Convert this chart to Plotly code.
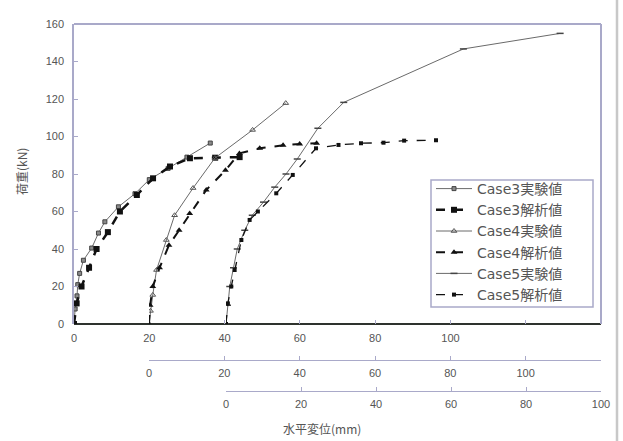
import plotly.graph_objects as go

# ---- data (each case in its own displacement axis, mm) ----
case3_exp_x = [0, 0.3, 0.8, 1.0, 1.5, 2.5, 4.7, 6.5, 8.2, 11.8, 16.2, 20.0, 25.0, 30.0, 36.2]
case3_exp_y = [0, 8, 15, 21, 27, 34, 40.5, 48.5, 54.5, 62.5, 69.5, 77, 83, 89, 96.5]
case3_ana_x = [0, 0.7, 2.0, 4.0, 6.0, 9.0, 12.2, 16.7, 21.0, 25.5, 30.8, 37.5, 44.0]
case3_ana_y = [0, 11, 20, 30, 40, 49, 60, 68.8, 77.7, 84, 88.4, 88.7, 89]

case4_exp_x = [0, 0.4, 1.0, 2.0, 4.6, 6.8, 11.7, 17.5, 27.5, 36.3]
case4_exp_y = [0, 7, 15.5, 28.8, 44.8, 58, 72.5, 88.5, 103.5, 117.8]
case4_ana_x = [0, 0.3, 1.0, 2.8, 5.3, 8.0, 10.8, 15.2, 20.3, 24.0, 29.4, 35.6, 40.0, 44.5]
case4_ana_y = [0, 10, 20, 30, 42, 50, 59, 71.5, 82, 91, 93.7, 95.3, 96, 96.4]

case5_exp_x = [0, 0.4, 1.0, 2.0, 3.0, 5.0, 7.0, 10.0, 13.0, 16.0, 19.0, 24.5, 31.4, 63.3, 89.1]
case5_exp_y = [0, 10, 20, 30, 40, 50, 58, 65, 73, 80, 88, 104.4, 118.2, 146.7, 155]
case5_ana_x = [0, 0.5, 1.4, 2.3, 4.1, 6.3, 8.5, 13.4, 17.8, 24.0, 30.0, 36.0, 42.0, 47.5, 56.0]
case5_ana_y = [0, 11, 20, 28.8, 44.8, 55.5, 60, 69.7, 79.5, 93.7, 95.5, 96.4, 96.7, 97.8, 98.0]

names = ["Case3実験値", "Case3解析値", "Case4実験値", "Case4解析値", "Case5実験値", "Case5解析値"]

y_ticks = [0, 20, 40, 60, 80, 100, 120, 140, 160]
x1_ticks = [0, 20, 40, 60, 80, 100, 120, 140]
x1_text = ["0", "20", "40", "60", "80", "100", "", ""]
x2_ticks = [0, 20, 40, 60, 80, 100, 120]
x2_text = ["0", "20", "40", "60", "80", "100", ""]
x3_ticks = [0, 20, 40, 60, 80, 100]
x3_text = ["0", "20", "40", "60", "80", "100"]

LAV = "#a9a9c9"
TXT = "#555555"
TICKFONT = dict(family="Liberation Sans, Arial", size=11, color=TXT)

fig = go.Figure()

fig.add_trace(go.Scatter(x=case3_exp_x, y=case3_exp_y, name=names[0], xaxis="x", yaxis="y",
                         mode="lines+markers", line=dict(color="#6a6a6a", width=1),
                         marker=dict(symbol="square", size=4, color="#8a8a8a", line=dict(color="#444", width=1))))
fig.add_trace(go.Scatter(x=case3_ana_x, y=case3_ana_y, name=names[1], xaxis="x", yaxis="y",
                         mode="lines+markers", line=dict(color="#111111", width=2.5, dash="dash"),
                         marker=dict(symbol="square", size=6, color="#111111")))
fig.add_trace(go.Scatter(x=case4_exp_x, y=case4_exp_y, name=names[2], xaxis="x2", yaxis="y",
                         mode="lines+markers", line=dict(color="#6a6a6a", width=1),
                         marker=dict(symbol="triangle-up-open", size=5, color="#555555")))
fig.add_trace(go.Scatter(x=case4_ana_x, y=case4_ana_y, name=names[3], xaxis="x2", yaxis="y",
                         mode="lines+markers", line=dict(color="#111111", width=2, dash="dash"),
                         marker=dict(symbol="triangle-up", size=6, color="#111111")))
fig.add_trace(go.Scatter(x=case5_exp_x, y=case5_exp_y, name=names[4], xaxis="x3", yaxis="y",
                         mode="lines+markers", line=dict(color="#6a6a6a", width=1),
                         marker=dict(symbol="line-ew-open", size=5, color="#444444", line=dict(width=1.5, color="#444444"))))
fig.add_trace(go.Scatter(x=case5_ana_x, y=case5_ana_y, name=names[5], xaxis="x3", yaxis="y",
                         mode="lines+markers", line=dict(color="#111111", width=1.3, dash="dash"),
                         marker=dict(symbol="square", size=4, color="#111111")))

W, H = 623, 441
ML, MR, MT, MB = 74, 22, 24, 50
pw = W - ML - MR
ph = H - MT - MB
ybot = (H - MB - 324) / ph
x2pos = (H - MB - 360) / ph

def px_x(p):
    return (p - ML) / pw

def px_y(p):
    return (H - MB - p) / ph

fig.update_layout(
    width=W, height=H,
    margin=dict(l=ML, r=MR, t=MT, b=MB),
    paper_bgcolor="white", plot_bgcolor="rgba(0,0,0,0)",
    showlegend=True,
    xaxis=dict(domain=[0, 1], range=[0, 140], tickvals=x1_ticks, ticktext=x1_text,
               showgrid=False, zeroline=False, showline=False,
               ticks="inside", ticklen=4, tickcolor=LAV, tickfont=TICKFONT, ticklabelstandoff=6,
               anchor="y", fixedrange=True),
    xaxis2=dict(domain=[px_x(149), 1], range=[0, 120], tickvals=x2_ticks, ticktext=x2_text,
                showgrid=False, zeroline=False, showline=True, linecolor=LAV, linewidth=1,
                ticks="inside", ticklen=4, tickcolor=LAV, tickfont=TICKFONT, ticklabelstandoff=3,
                anchor="free", position=x2pos, fixedrange=True),
    xaxis3=dict(domain=[px_x(226), 1], range=[0, 100], tickvals=x3_ticks, ticktext=x3_text,
                showgrid=False, zeroline=False, showline=True, linecolor=LAV, linewidth=1,
                ticks="inside", ticklen=4, tickcolor=LAV, tickfont=TICKFONT, ticklabelstandoff=3,
                anchor="free", position=0, fixedrange=True),
    yaxis=dict(domain=[ybot, 1], range=[0, 160], tickvals=y_ticks,
               showgrid=False, zeroline=False, showline=True, linecolor=LAV, linewidth=1.5,
               ticks="inside", ticklen=4, tickcolor=LAV, tickfont=TICKFONT, ticklabelstandoff=6,
               anchor="x", fixedrange=True),
    legend=dict(x=px_x(431), y=px_y(173), xanchor="left", yanchor="top",
                bgcolor="rgba(0,0,0,0)", borderwidth=0,
                font=dict(family="DejaVu Sans, Noto Sans CJK JP", size=14, color=TXT),
                itemwidth=36, tracegroupgap=0),
    shapes=[
        dict(type="line", xref="paper", yref="paper", x0=0, x1=1, y0=1, y1=1,
             line=dict(color=LAV, width=2)),
        dict(type="line", xref="paper", yref="paper", x0=1, x1=1, y0=ybot, y1=1,
             line=dict(color=LAV, width=2)),
        dict(type="line", xref="paper", yref="paper", x0=0, x1=1, y0=ybot, y1=ybot,
             line=dict(color="#2e332e", width=2), layer="below"),
        dict(type="rect", xref="paper", yref="paper", x0=px_x(431), x1=px_x(593),
             y0=px_y(307), y1=px_y(180), fillcolor="white",
             line=dict(color=LAV, width=1.5), layer="above"),
        dict(type="line", xref="paper", yref="paper", x0=px_x(617), x1=px_x(617),
             y0=px_y(441), y1=px_y(0), line=dict(color="#c8c8c8", width=2.5)),
    ],
    annotations=[
        dict(text="水平変位(mm)", xref="paper", yref="paper", x=px_x(322), y=px_y(428),
             xanchor="center", yanchor="middle", showarrow=False,
             font=dict(family="Noto Sans CJK JP", size=12, color=TXT)),
        dict(text="荷重(kN)", xref="paper", yref="paper", x=px_x(22), y=px_y(172),
             xanchor="center", yanchor="middle", showarrow=False, textangle=-90,
             font=dict(family="Noto Sans CJK JP", size=12, color=TXT)),
    ],
)

fig.write_html("out.html")
